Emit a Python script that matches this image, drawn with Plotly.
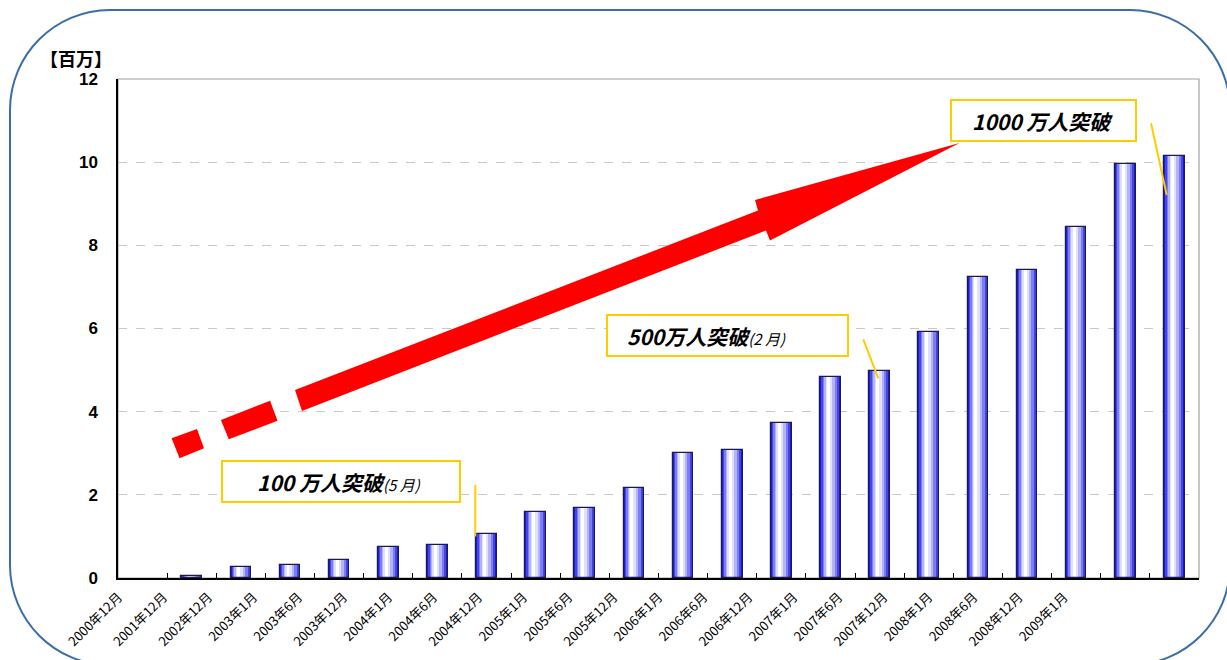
import plotly.graph_objects as go

# ---------------- data ----------------
categories = ["2000年12月", "2001年12月", "2002年12月", "2003年1月", "2003年6月", "2003年12月",
              "2004年1月", "2004年6月", "2004年12月", "2005年1月", "2005年6月", "2005年12月",
              "2006年1月", "2006年6月", "2006年12月", "2007年1月", "2007年6月", "2007年12月",
              "2008年1月", "2008年6月", "2008年12月", "2009年1月"]
subscribers = [0, 0.06, 0.27, 0.31, 0.44, 0.75, 0.79, 1.07, 1.59, 1.68, 2.16, 3.00,
               3.07, 3.73, 4.83, 4.97, 5.91, 7.23, 7.41, 8.44, 9.96, 10.15]
y_ticks = [0, 2, 4, 6, 8, 10, 12]
unit_label = "【百万】"
callouts = ["100 万人突破", "500万人突破", "1000 万人突破"]
callout_months = ["(5 月)", "(2 月)", ""]

# ---------------- layout helpers (pixels -> paper) ----------------
W, H = 1227, 660
L, R, T, B = 118, 28, 79, 82
PW, PH = W - L - R, H - T - B


def px(x):
    return (x - L) / PW


def py(y):
    return (H - B - y) / PH


def path_of(points, close=True):
    s = "M " + " L ".join(f"{px(x):.5f},{py(y):.5f}" for x, y in points)
    return s + (" Z" if close else "")


JP = "Noto Sans CJK JP, Noto Sans, sans-serif"
fig = go.Figure()

xs = list(range(len(categories)))
# horizontal gradient imitation: overlaid bars of decreasing width
layers = [(0.42, -0.21, "#1C1CD4"), (0.37, -0.19, "#4444EC"), (0.30, -0.16, "#7C7CF6"),
          (0.22, -0.13, "#B4B4FD"), (0.14, -0.10, "#E0E0FF"), (0.06, -0.07, "#FFFFFF")]
for w, o, c in layers:
    fig.add_trace(go.Bar(x=xs, y=subscribers, width=w, offset=o,
                         marker=dict(color=c, line=dict(width=0)),
                         hoverinfo="skip", showlegend=False))
outline_vals = [v if v > 0 else None for v in subscribers]
fig.add_trace(go.Bar(x=xs, y=outline_vals, width=0.42, offset=-0.21,
                     marker=dict(color="rgba(0,0,0,0)", line=dict(color="#1a1a50", width=1.2)),
                     hovertemplate="%{y}<extra></extra>", showlegend=False))
# invisible trace for the label axis
fig.add_trace(go.Scatter(x=[1], y=[0], xaxis="x2", mode="markers",
                         marker=dict(opacity=0), hoverinfo="skip", showlegend=False))

n = len(categories)
first = 118.5
last = 1064
step = (last - first) / (n - 1)
a = (L - first) / step
b = a + PW / step

fig.update_layout(
    width=W, height=H,
    margin=dict(l=L, r=R, t=T, b=B, pad=0),
    paper_bgcolor="white", plot_bgcolor="white",
    barmode="overlay", bargap=0,
    xaxis=dict(range=[-0.5, n - 0.5], showgrid=False, zeroline=False,
               showline=True, linecolor="black", linewidth=1.5,
               tickmode="array", tickvals=[k - 0.5 for k in range(1, n)],
               ticks="inside", ticklen=5, tickcolor="black", tickwidth=1,
               showticklabels=False, automargin=False, fixedrange=True),
    xaxis2=dict(overlaying="x", anchor="y", side="bottom", range=[a, b],
                tickmode="array", tickvals=list(range(n)), ticktext=categories,
                tickangle=-45, tickfont=dict(family=JP, size=13, color="black"),
                ticklabelstandoff=8,
                showgrid=False, zeroline=False, showline=False, ticks="",
                automargin=False, fixedrange=True),
    yaxis=dict(range=[0, 12], tickmode="array", tickvals=y_ticks,
               showgrid=True, gridcolor="#c8c8c8", griddash="dash", gridwidth=1,
               zeroline=False, showline=True, linecolor="black", linewidth=1.5,
               ticks="", ticklabelstandoff=15,
               tickfont=dict(family="Liberation Sans, Arial, sans-serif", size=17,
                             color="black", weight="bold"),
               automargin=False, fixedrange=True),
)

shapes = []
# plot frame (top / right in grey)
shapes.append(dict(type="rect", xref="paper", yref="paper", x0=0, x1=1, y0=0, y1=1,
                   line=dict(color="#a0a0a0", width=1.2), layer="below"))

# red arrow (dashed start + shaft + head)
red = "#FF0000"
arrow_parts = [
    [(171.6, 438.3), (197.0, 429.0), (204.0, 448.3), (179.6, 458.3)],
    [(220.9, 420.0), (270.1, 400.7), (277.5, 420.7), (228.8, 439.3)],
    [(295.0, 390.0), (758.0, 210.5), (755.0, 200.0), (959.5, 143.0),
     (770.0, 240.5), (766.0, 230.5), (302.0, 411.0)],
]
for pts in arrow_parts:
    shapes.append(dict(type="path", xref="paper", yref="paper", path=path_of(pts),
                       fillcolor=red, line=dict(width=0), layer="above"))

# callout boxes
gold = "#FFCC00"
boxes = [(222, 461, 460, 502), (607, 315, 848, 356), (951, 100, 1136, 141)]
for x0, y0, x1, y1 in boxes:
    shapes.append(dict(type="rect", xref="paper", yref="paper",
                       x0=px(x0), x1=px(x1), y0=py(y1), y1=py(y0),
                       fillcolor="white", line=dict(color=gold, width=2), layer="above"))
# leader lines
leaders = [((475.3, 485), (475.3, 536.5)), ((863.3, 339.3), (878.3, 378.3)),
           ((1151, 123.3), (1166.7, 195))]
for (xa, ya), (xb, yb) in leaders:
    shapes.append(dict(type="line", xref="paper", yref="paper",
                       x0=px(xa), y0=py(ya), x1=px(xb), y1=py(yb),
                       line=dict(color=gold, width=2), layer="above"))

# rounded outer frame
x0, y0, x1, y1, r = 10, 10, 1230, 665, 100
k = 0.5523 * r
frame = (f"M {px(x0 + r):.5f},{py(y0):.5f} L {px(x1 - r):.5f},{py(y0):.5f} "
         f"C {px(x1 - r + k):.5f},{py(y0):.5f} {px(x1):.5f},{py(y0 + r - k):.5f} {px(x1):.5f},{py(y0 + r):.5f} "
         f"L {px(x1):.5f},{py(y1 - r):.5f} "
         f"C {px(x1):.5f},{py(y1 - r + k):.5f} {px(x1 - r + k):.5f},{py(y1):.5f} {px(x1 - r):.5f},{py(y1):.5f} "
         f"L {px(x0 + r):.5f},{py(y1):.5f} "
         f"C {px(x0 + r - k):.5f},{py(y1):.5f} {px(x0):.5f},{py(y1 - r + k):.5f} {px(x0):.5f},{py(y1 - r):.5f} "
         f"L {px(x0):.5f},{py(y0 + r):.5f} "
         f"C {px(x0):.5f},{py(y0 + r - k):.5f} {px(x0 + r - k):.5f},{py(y0):.5f} {px(x0 + r):.5f},{py(y0):.5f} Z")
shapes.append(dict(type="path", xref="paper", yref="paper", path=frame,
                   line=dict(color="#3A6EA8", width=2), fillcolor="rgba(0,0,0,0)", layer="above"))

fig.update_layout(shapes=shapes)

annotations = [
    dict(text=f"<b>{unit_label}</b>", x=px(38), y=py(58), xref="paper", yref="paper",
         xanchor="left", yanchor="middle", showarrow=False,
         font=dict(family=JP, size=18, color="black")),
]
text_pos = [(255, 481.5), (625, 336), (970, 121)]
for (tx, ty), main, sub in zip(text_pos, callouts, callout_months):
    t = f"<b><i>{main}</i></b>"
    if sub:
        t += f"<span style='font-size:15px'><i>{sub}</i></span>"
    annotations.append(dict(text=t, x=px(tx), y=py(ty), xref="paper", yref="paper",
                            xanchor="left", yanchor="middle", showarrow=False,
                            font=dict(family=JP, size=21, color="black")))
fig.update_layout(annotations=annotations)

fig.write_html("out.html", config={"displayModeBar": False},
               post_script="document.body.style.margin='0';document.body.style.overflow='hidden';")
